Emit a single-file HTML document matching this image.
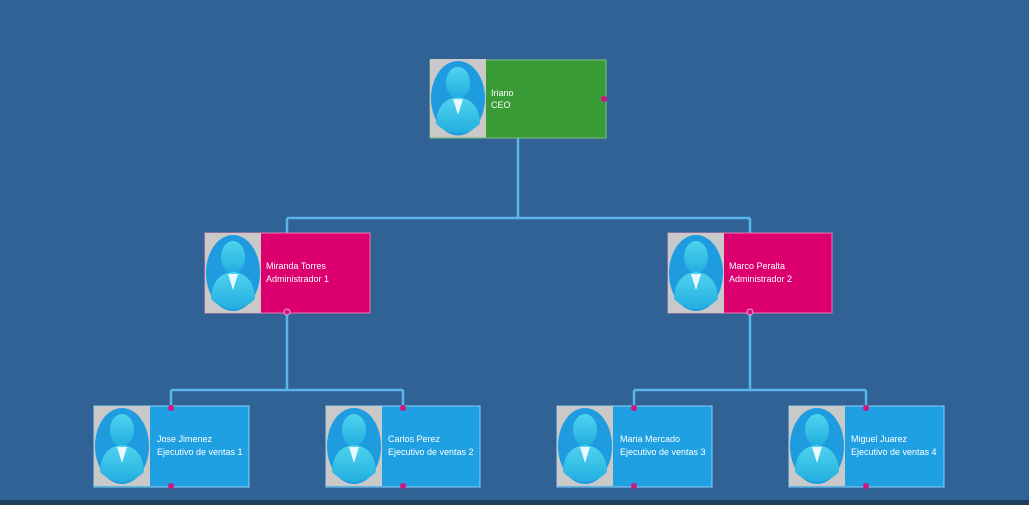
<!DOCTYPE html>
<html><head><meta charset="utf-8"><style>
html,body{margin:0;padding:0;background:#316296;width:1029px;height:505px;overflow:hidden}
svg{display:block}
text{font-family:"Liberation Sans",sans-serif;font-size:9px;fill:#fff}
</style></head><body>
<svg width="1029" height="505" viewBox="0 0 1029 505" xmlns="http://www.w3.org/2000/svg">
<defs>
<linearGradient id="pg" x1="0" y1="0" x2="0" y2="1"><stop offset="0" stop-color="#4fd4ee"/><stop offset="1" stop-color="#22aee0"/></linearGradient>
<g id="av">
<rect x="0" y="0" width="56" height="80" fill="#c9c9c9"/>
<ellipse cx="28" cy="40" rx="27" ry="38" fill="#1f9be0"/>
<ellipse cx="28" cy="24" rx="12" ry="16" fill="url(#pg)"/>
<path d="M6 66 Q7 41 28 39 Q49 41 50 66 Q40 76 28 76 Q16 76 6 66Z" fill="url(#pg)"/>
<path d="M23 41 L28 57 L33 41Z" fill="#e8f8ff"/>
</g>
</defs>
<rect x="0" y="500" width="1029" height="5" fill="#1e3e5f"/>
<g stroke="#5bb4ea" stroke-width="2.5" fill="none">
<path d="M518 138V218M287 218H750M287 218V233M750 218V233"/>
<path d="M287 313V390M171 390H403M171 390V406M403 390V406"/>
<path d="M750 313V390M634 390H866M634 390V406M866 390V406"/>
</g>
<rect x="430" y="60" width="176" height="78" fill="#389b36" stroke="#7fc07c" stroke-width="1"/>
<use href="#av" transform="translate(430,59) scale(1,0.98)"/>
<text x="491" y="96">Iriano</text><text x="491" y="108">CEO</text>
<circle cx="604" cy="99" r="3" fill="#d0157f"/>
<rect x="205" y="233" width="165" height="80" fill="#dc006f" stroke="#e97ab3" stroke-width="1"/>
<use href="#av" transform="translate(205,233)"/>
<text x="266" y="269">Miranda Torres</text><text x="266" y="282">Administrador 1</text>
<circle cx="287" cy="312" r="3" fill="#d0157f" stroke="#f0a0c8"/>
<rect x="668" y="233" width="164" height="80" fill="#dc006f" stroke="#e97ab3" stroke-width="1"/>
<use href="#av" transform="translate(668,233)"/>
<text x="729" y="269">Marco Peralta</text><text x="729" y="282">Administrador 2</text>
<circle cx="750" cy="312" r="3" fill="#d0157f" stroke="#f0a0c8"/>
<g>
<rect x="94" y="406" width="155" height="81" fill="#1fa0e2" stroke="#8ccff2" stroke-width="1"/>
<use href="#av" transform="translate(94,406)"/>
<text x="157" y="442">Jose Jimenez</text><text x="157" y="455">Ejecutivo de ventas 1</text>
<circle cx="171" cy="408" r="3" fill="#d0157f"/><circle cx="171" cy="486" r="3" fill="#d0157f"/>
</g>
<g>
<rect x="326" y="406" width="154" height="81" fill="#1fa0e2" stroke="#8ccff2" stroke-width="1"/>
<use href="#av" transform="translate(326,406)"/>
<text x="388" y="442">Carlos Perez</text><text x="388" y="455">Ejecutivo de ventas 2</text>
<circle cx="403" cy="408" r="3" fill="#d0157f"/><circle cx="403" cy="486" r="3" fill="#d0157f"/>
</g>
<g>
<rect x="557" y="406" width="155" height="81" fill="#1fa0e2" stroke="#8ccff2" stroke-width="1"/>
<use href="#av" transform="translate(557,406)"/>
<text x="620" y="442">Maria Mercado</text><text x="620" y="455">Ejecutivo de ventas 3</text>
<circle cx="634" cy="408" r="3" fill="#d0157f"/><circle cx="634" cy="486" r="3" fill="#d0157f"/>
</g>
<g>
<rect x="789" y="406" width="155" height="81" fill="#1fa0e2" stroke="#8ccff2" stroke-width="1"/>
<use href="#av" transform="translate(789,406)"/>
<text x="851" y="442">Miguel Juarez</text><text x="851" y="455">Ejecutivo de ventas 4</text>
<circle cx="866" cy="408" r="3" fill="#d0157f"/><circle cx="866" cy="486" r="3" fill="#d0157f"/>
</g>
</svg>
</body></html>
